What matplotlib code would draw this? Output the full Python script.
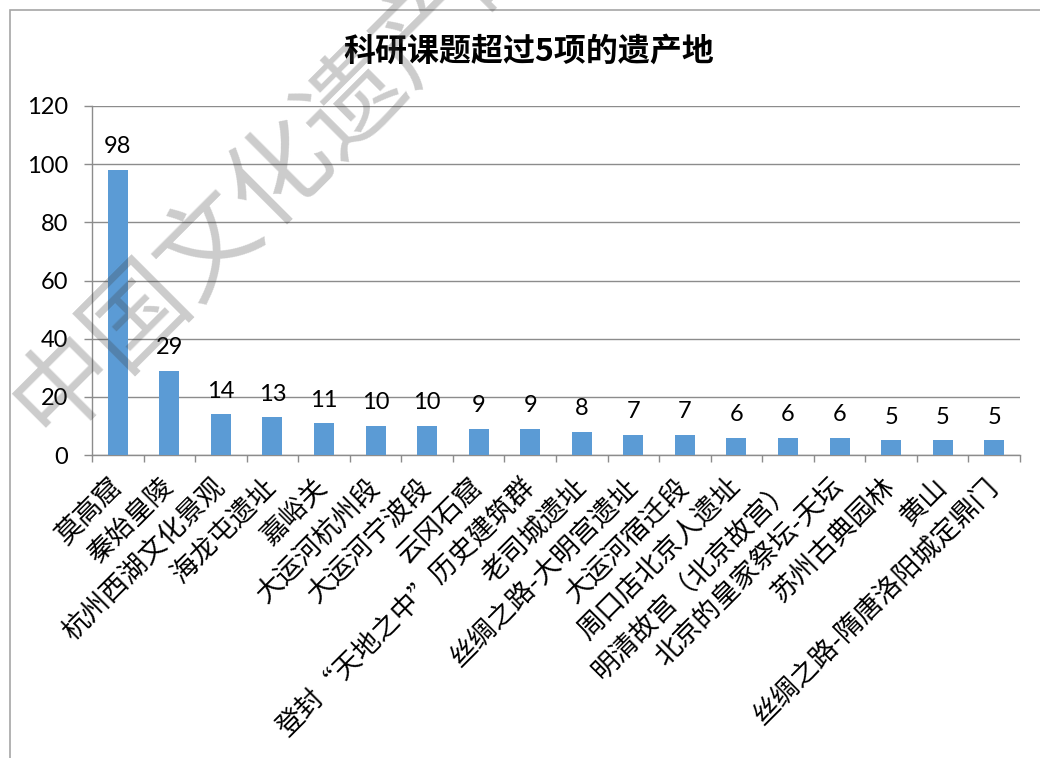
import matplotlib
matplotlib.use("Agg")
import matplotlib.pyplot as plt
from matplotlib.patches import Rectangle
import numpy as np

plt.rcParams['font.family'] = ['Noto Sans CJK SC', 'DejaVu Sans']

categories = ["莫高窟", "秦始皇陵", "杭州西湖文化景观", "海龙屯遗址", "嘉峪关",
              "大运河杭州段", "大运河宁波段", "云冈石窟", "登封“天地之中”历史建筑群",
              "老司城遗址", "丝绸之路-大明宫遗址", "大运河宿迁段", "周口店北京人遗址",
              "明清故宫（北京故宫）", "北京的皇家祭坛-天坛", "苏州古典园林", "黄山",
              "丝绸之路-隋唐洛阳城定鼎门"]
values = [98, 29, 14, 13, 11, 10, 10, 9, 9, 8, 7, 7, 6, 6, 6, 5, 5, 5]
y_ticks = [0, 20, 40, 60, 80, 100, 120]
title = "科研课题超过5项的遗产地"
watermark = "中国文化遗产研究院"

W, H = 1040, 758
fig = plt.figure(figsize=(W / 100, H / 100), dpi=100)

# outer chart frame
fig.patches.append(Rectangle((10 / W, -0.5), 2.0, 1.5 - 10 / H, transform=fig.transFigure,
                             fill=False, edgecolor='#a6a6a6', linewidth=1.2))

ax = fig.add_axes([92 / W, 1 - 455 / H, (1020 - 92) / W, (455 - 106) / H])
x = np.arange(len(categories))
ax.bar(x, values, width=0.39, color='#5B9BD5', zorder=3)

ax.set_xlim(-0.5, len(categories) - 0.5)
ax.set_ylim(0, 120)
ax.set_yticks(y_ticks)
ax.set_yticklabels([str(t) for t in y_ticks], fontsize=17, family=['Lato', 'DejaVu Sans'])
ax.yaxis.grid(True, color='#8c8c8c', linewidth=1, zorder=0)
ax.set_axisbelow(True)

ax.set_xticks(x)
ax.set_xticklabels(categories, rotation=45, ha='right', va='center', rotation_mode='anchor',
                   fontsize=19.5)
ax.set_xticks(np.arange(len(categories) + 1) - 0.5, minor=True)
ax.tick_params(axis='x', which='major', length=0, pad=20)
ax.tick_params(axis='x', which='minor', length=5, color='#8c8c8c', width=1)
ax.tick_params(axis='y', which='major', length=6, color='#8c8c8c', width=1, pad=11)

for s in ['top', 'right']:
    ax.spines[s].set_visible(False)
for s in ['left', 'bottom']:
    ax.spines[s].set_color('#8c8c8c')
    ax.spines[s].set_linewidth(1)

for xi, v in zip(x, values):
    ax.annotate(str(v), (xi, v), xytext=(0, 9), textcoords='offset points',
                ha='center', va='bottom', fontsize=17, family=['Lato', 'DejaVu Sans'])

fig.text(529 / W, 1 - 52 / H, title, ha='center', va='center', fontsize=23, fontweight='bold')

# watermark
fig.text(28 / W, 1 - 420 / H, watermark, rotation=45, rotation_mode='anchor',
         ha='left', va='center', fontsize=73, color='#404040', alpha=0.27, zorder=10)

fig.savefig("out.png", dpi=100)
